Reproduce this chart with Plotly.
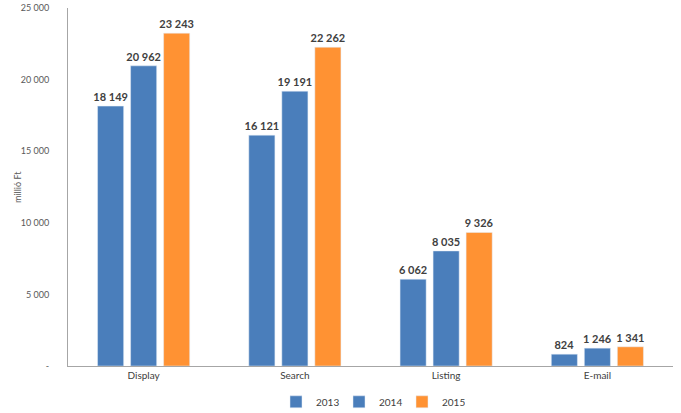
import plotly.graph_objects as go

categories = ["Display", "Search", "Listing", "E-mail"]
years = ["2013", "2014", "2015"]
values_2013 = [18149, 16121, 6062, 824]
values_2014 = [20962, 19191, 8035, 1246]
values_2015 = [23243, 22262, 9326, 1341]
tick_vals = [0, 5000, 10000, 15000, 20000, 25000]
tick_text = ["-", "5 000", "10 000", "15 000", "20 000", "25 000"]
colors = ["#4A7EBB", "#4A7EBB", "#FF9233"]

def fmt(v):
    return f"{v:,}".replace(",", " ")

fig = go.Figure()
for name, vals, col in zip(years, [values_2013, values_2014, values_2015], colors):
    fig.add_trace(go.Bar(
        x=categories, y=vals, name=name, marker_color=col,
        text=[fmt(v) for v in vals], textposition="outside",
        constraintext="none",
        textfont=dict(family="Lato", size=11, color="#404040", weight="bold"),
        cliponaxis=False,
    ))

fig.update_layout(
    width=681, height=413,
    margin=dict(l=68, r=8, t=8, b=47, autoexpand=False),
    paper_bgcolor="white", plot_bgcolor="white",
    barmode="group", bargap=0.345, bargroupgap=0.21,
    font=dict(family="Lato", color="#595959", size=9),
    showlegend=True,
    legend=dict(orientation="h", x=0.5, xanchor="center", y=-0.1, yanchor="middle",
                itemwidth=30, tracegroupgap=0, entrywidth=18, entrywidthmode="pixels",
                font=dict(size=10, color="#404040")),
    xaxis=dict(showline=True, linecolor="#A6A6A6", linewidth=1, ticks="",
               tickfont=dict(size=10, color="#404040")),
    yaxis=dict(range=[0, 25000], tickvals=tick_vals, ticktext=tick_text,
               showgrid=False, showline=True, linecolor="#A6A6A6", linewidth=1,
               zeroline=False, ticks="", ticklabelstandoff=16,
               tickfont=dict(size=9, color="#595959")),
    annotations=[dict(text="millió Ft", x=(17 - 68) / (681 - 68 - 8), xref="paper",
                      xanchor="center", y=0.5, yref="paper", yanchor="middle",
                      textangle=-90, showarrow=False,
                      font=dict(size=9, color="#595959"))],
)

fig.write_html("out.html")
